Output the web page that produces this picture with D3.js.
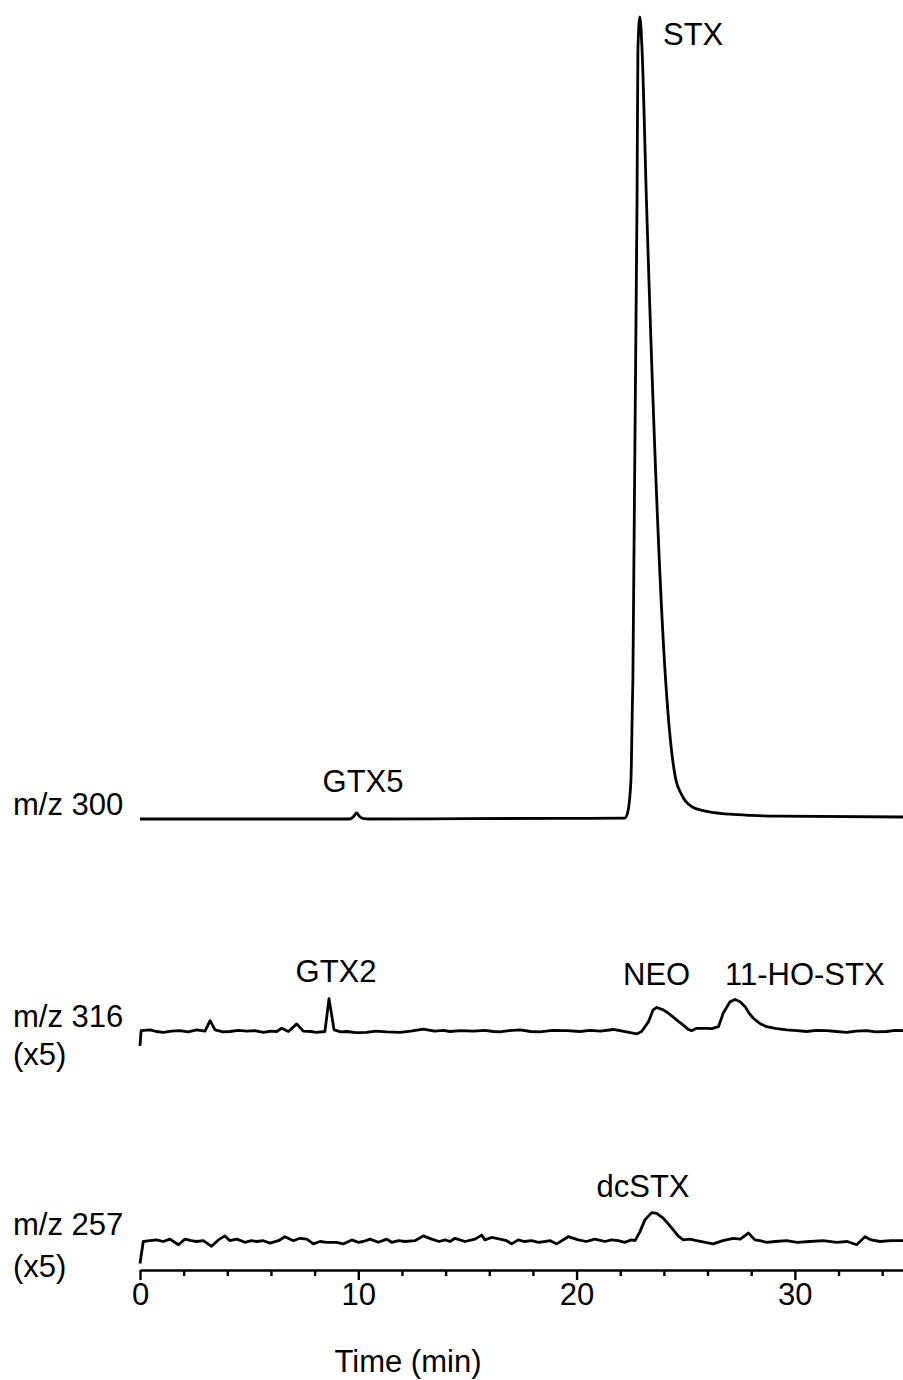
<!DOCTYPE html>
<html>
<head>
<meta charset="utf-8">
<script src="https://cdn.jsdelivr.net/npm/d3@7"></script>
<style>
  body { margin: 0; background: #fff; }
  svg text { font-family: "Liberation Sans", Arial, sans-serif; font-size: 31px; fill: #000; }
</style>
</head>
<body>
<div id="chart"></div>
<script>
// time (min), intensity (counts, m/z 300 STX apex = 1000)
const mz300 = [[0,0],[5,0],[9.6,0],[9.8,3.5],[9.92,7.5],[10.05,3.5],[10.25,0.5],[10.5,0],[15,0.5],[22.2,1],
  [22.33,7],[22.49,48],[22.56,148],[22.58,173],[22.77,772],[22.81,959],[22.9,1000],[23.0,959],[23.2,772],
  [24.08,173],[24.3,98],[24.54,50],[24.8,31],[25.0,22],[25.3,15],[25.7,11],[26.3,8],[27.0,6],[28.0,4.5],
  [29.3,3.5],[35,2.5]];

const mz316 = [[0,-18],[0.05,1],[0.46,2],[0.75,0],[1.07,-1],[1.45,0.5],[1.83,1],[2.2,-0.5],[2.6,2],[2.98,0.5],
  [3.21,13.5],[3.44,2],[3.8,-0.5],[4.12,0],[4.5,1.5],[4.89,0.5],[5.25,1],[5.65,-1],[6.0,0.5],[6.26,0],[6.49,4],
  [6.8,0],[7.18,9.5],[7.48,0.5],[7.8,0],[8.09,-1],[8.47,0],[8.66,41],[8.89,2],[9.2,-0.5],[9.47,0],[9.9,-1.5],
  [10.38,-1],[10.8,0.5],[11.3,-0.5],[11.91,-1],[12.4,0.5],[12.98,3],[13.5,0.5],[13.9,1.5],[14.2,0],[14.7,1],
  [15.27,0.5],[15.8,1.5],[16.2,0],[16.49,-0.5],[16.9,1],[17.41,2],[17.9,0],[18.32,-0.5],[18.9,1.5],[19.55,1],
  [20.16,0],[20.6,1.5],[21.1,0.5],[21.68,2.5],[22.29,-0.5],[22.75,-3],[22.98,0],[23.29,12],[23.51,27],
  [23.67,30],[23.97,27],[24.2,23],[24.43,18],[24.65,13],[24.89,8],[25.1,3],[25.27,1],[25.5,4],[25.96,4],
  [26.2,3.5],[26.5,6],[26.72,23],[27.03,37],[27.26,40],[27.49,37],[27.72,31],[27.9,23],[28.1,16.5],
  [28.4,10],[28.71,6],[29.1,4],[29.62,2],[30.1,1],[30.54,0],[31.0,1.5],[31.46,1],[31.9,0],[32.37,-1],
  [32.8,0.5],[33.29,1],[33.7,-0.5],[34.2,0],[34.6,1.5],[35,1]];

const mz257 = [[0,-27.5],[0.15,0],[0.45,1],[0.76,2],[1.07,0],[1.37,3],[1.76,-4],[2.06,3],[2.35,1],[2.6,0],
  [2.9,1],[3.28,-6],[3.59,2],[3.89,7],[4.12,1],[4.43,3],[4.81,-1],[5.1,1],[5.35,0],[5.65,1],[5.96,-2],
  [6.34,1],[6.64,6],[7.02,1],[7.33,4],[7.64,3],[7.94,-3],[8.25,0],[8.55,-1],[9.01,-1],[9.31,-3],[9.7,2],
  [10.0,-1],[10.23,0],[10.54,3],[10.92,-1],[11.3,3],[11.53,-1],[11.85,1],[12.14,0],[12.6,1],[12.98,7],
  [13.36,3],[13.7,0],[13.97,2],[14.2,0],[14.43,4],[14.89,0],[15.35,3],[15.65,8],[15.8,2],[16.11,5],
  [16.49,3],[16.8,1],[17.03,-3],[17.33,2],[17.6,0],[17.94,1],[18.25,-1],[18.55,0],[18.8,1],[19.09,-3],
  [19.62,6],[20.08,2],[20.45,0],[20.84,3],[21.3,0],[21.6,2],[21.91,1],[22.2,-1],[22.52,2],[22.68,1],
  [22.9,12],[23.13,27],[23.44,36],[23.67,35],[23.97,29],[24.2,22],[24.43,14.5],[24.65,7],[24.89,2],
  [25.2,3],[25.5,1],[25.9,-1],[26.26,-3],[26.7,1],[27.18,4],[27.5,3],[27.87,10.5],[28.17,2],[28.4,1],
  [28.71,-1],[29.1,0],[29.62,1],[30.1,-1],[30.69,0],[31.3,1],[31.91,-1],[32.4,0],[32.83,-4],[33.21,6],
  [33.5,2],[33.9,0],[34.4,1],[35,1]];

const traceNames = ["m/z 300", "m/z 316", "m/z 257"];
const traceScales = ["", "(x5)", "(x5)"];
const peakNames = ["GTX5", "STX", "GTX2", "NEO", "11-HO-STX", "dcSTX"];
const majorTicks = [0, 10, 20, 30];
const minorTicks = [2, 4, 6, 8, 12, 14, 16, 18, 22, 24, 26, 28, 32, 34];

const width = 903, height = 1380;
const svg = d3.select("#chart").append("svg")
  .attr("width", width).attr("height", height);

const x = d3.scaleLinear().domain([0, 35]).range([140, 904]);
const axisY = 1270;

// one y scale per trace, same gain, different baseline
const baselines = [819, 1031.5, 1241.5];
const ys = baselines.map(b => d3.scaleLinear().domain([0, 1000]).range([b, b - 802]));

const traces = [mz300, mz316, mz257];
const curves = [d3.curveMonotoneX, d3.curveLinear, d3.curveLinear];

traces.forEach((data, i) => {
  const line = d3.line()
    .x(d => x(d[0]))
    .y(d => ys[i](d[1]))
    .curve(curves[i]);
  svg.append("path")
    .datum(data)
    .attr("fill", "none")
    .attr("stroke", "#000")
    .attr("stroke-width", 2.8)
    .attr("stroke-linejoin", "round")
    .attr("d", line);
});

// trace labels on the left
const nameY = [815, 1027, 1235];
const scaleY = [null, 1065, 1277];
traceNames.forEach((n, i) => {
  svg.append("text").attr("x", 13).attr("y", nameY[i]).text(n);
  if (traceScales[i]) svg.append("text").attr("x", 13).attr("y", scaleY[i]).text(traceScales[i]);
});

// peak labels
const peakPos = [
  { x: 363, y: 792, anchor: "middle" },
  { x: 663, y: 45, anchor: "start" },
  { x: 336, y: 982, anchor: "middle" },
  { x: 623, y: 985, anchor: "start" },
  { x: 725, y: 985, anchor: "start" },
  { x: 643, y: 1197, anchor: "middle" }
];
peakNames.forEach((n, i) => {
  svg.append("text")
    .attr("x", peakPos[i].x)
    .attr("y", peakPos[i].y)
    .attr("text-anchor", peakPos[i].anchor)
    .text(n);
});

// x axis
const xAxis = svg.append("g").attr("transform", `translate(0,${axisY})`);
xAxis.call(d3.axisBottom(x).tickValues(majorTicks).tickSize(10).tickSizeOuter(0).tickPadding(3));
xAxis.select(".domain").attr("stroke-width", 2.6);
xAxis.selectAll(".tick line").attr("stroke-width", 2.4);
xAxis.selectAll(".tick text").attr("font-size", 31).attr("font-family", "Liberation Sans, Arial, sans-serif");

const minor = svg.append("g").attr("transform", `translate(0,${axisY})`);
minor.call(d3.axisBottom(x).tickValues(minorTicks).tickSize(6).tickSizeOuter(0).tickFormat(""));
minor.select(".domain").remove();
minor.selectAll(".tick line").attr("stroke-width", 2.4);

svg.append("text")
  .attr("x", 408)
  .attr("y", 1372)
  .attr("text-anchor", "middle")
  .text("Time (min)");
</script>
</body>
</html>
